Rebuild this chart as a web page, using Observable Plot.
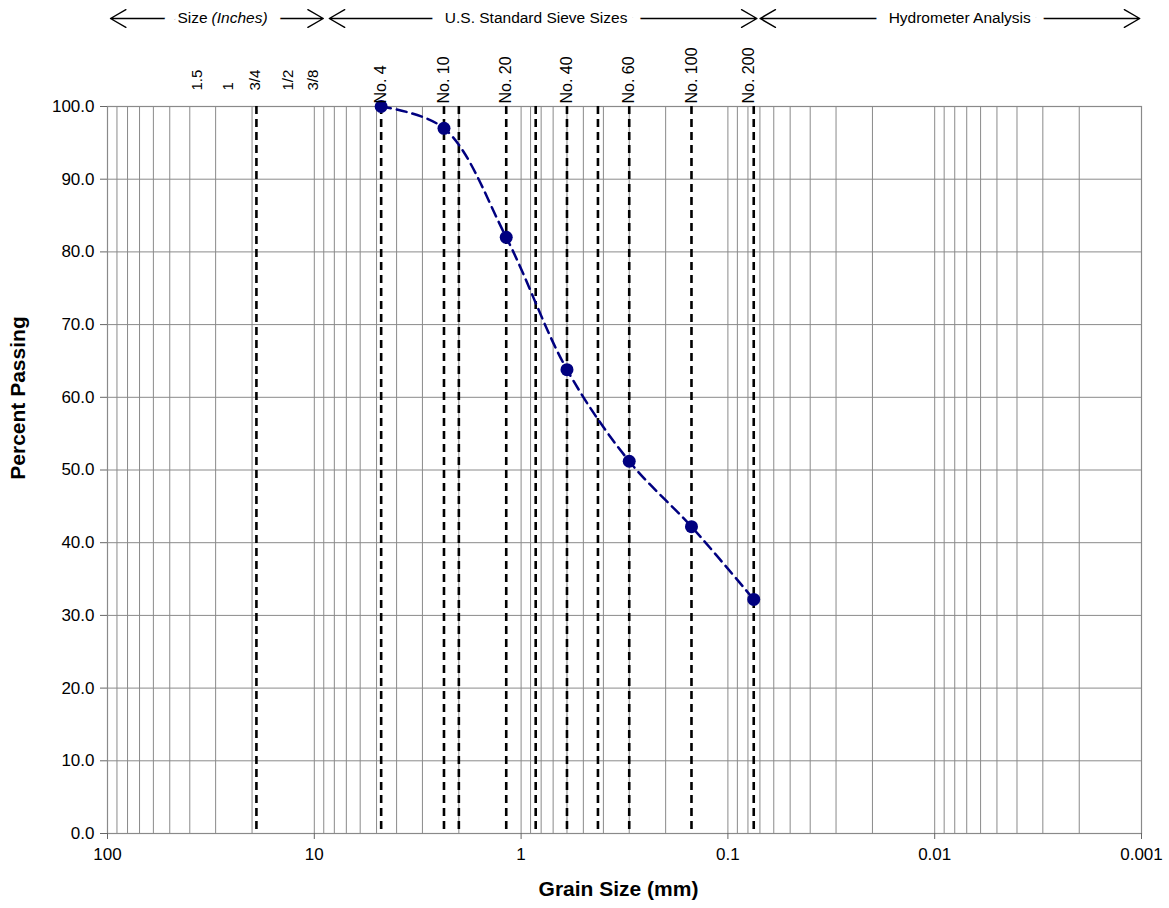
<!DOCTYPE html>
<html>
<head>
<meta charset="utf-8">
<script src="https://cdn.jsdelivr.net/npm/d3@7"></script>
<script src="https://cdn.jsdelivr.net/npm/@observablehq/plot@0.6"></script>
<style>
  html, body { margin: 0; padding: 0; background: #fff; }
  #chart { width: 1169px; }
  #chart svg { display: block; }
</style>
</head>
<body>
<div id="chart"></div>
<script>
// ---- data ----
const grainSize = [4.75, 2.36, 1.18, 0.6, 0.3, 0.15, 0.075];          // mm
const percentPassing = [100.0, 97.0, 82.0, 63.8, 51.2, 42.2, 32.2];   // %

const sieveLabels = ["No. 4", "No. 10", "No. 20", "No. 40", "No. 60", "No. 100", "No. 200"];
const sieveLabelSize = [4.75, 2.36, 1.18, 0.6, 0.3, 0.15, 0.079];
const sieveLines = [19.05, 4.75, 2.36, 2.0, 1.18, 0.85, 0.6, 0.425, 0.3, 0.15, 0.075];

const inchLabels = ["1.5", "1", "3/4", "1/2", "3/8"];
const inchLabelSize = [36.7, 26.0, 19.3, 13.4, 10.1];

const yTicks = [0, 10, 20, 30, 40, 50, 60, 70, 80, 90, 100];
const yGrid = [10, 20, 30, 40, 50, 60, 70, 80, 90];
const xTicks = [100, 10, 1, 0.1, 0.01, 0.001];
const xDomain = [100, 0.001];

// header bands
const headerLabels = ["Size", "U.S. Standard Sieve Sizes", "Hydrometer Analysis"];
const headerItalic = ["(Inches)", "", ""];
const headerCenter = [32.1, 0.846, 0.00757];
const headerStart = [96.7, 8.46, 0.0699];
const headerEnd = [9.05, 0.0724, 0.00102];

// ---- build ----
const font = "'Liberation Sans', Arial, Helvetica, sans-serif";
const W = 1169, ML = 107, MR = 28;
const navy = "#000080";
const gridColor = "#8a8a8a";

const points = grainSize.map((g, i) => ({g, p: percentPassing[i]}));
const header = headerLabels.map((t, i) => ({
  t, it: headerItalic[i], c: headerCenter[i], s: headerStart[i], e: headerEnd[i]
}));
const split = header.filter(d => d.it);
const whole = header.filter(d => !d.it);

function headerText(data, opts, halo) {
  return Plot.text(data, Object.assign({y: 0.5, fontSize: 15.5},
    halo ? {fill: "white", stroke: "white", strokeWidth: 27} : {fill: "black"}, opts));
}

const headerPlot = Plot.plot({
  width: W, height: 36,
  marginLeft: ML, marginRight: MR, marginTop: 0, marginBottom: 0,
  style: {fontFamily: font, fontSize: "15.5px", background: "white", color: "black"},
  x: {type: "log", domain: xDomain, axis: null},
  y: {domain: [0, 1], axis: null},
  marks: [
    Plot.arrow(header, {x1: "c", x2: "s", y1: 0.5, y2: 0.5, stroke: "black", strokeWidth: 1.4, headAngle: 60, headLength: 19}),
    Plot.arrow(header, {x1: "c", x2: "e", y1: 0.5, y2: 0.5, stroke: "black", strokeWidth: 1.4, headAngle: 60, headLength: 19}),
    // halos first
    headerText(split, {x: "c", text: "t", textAnchor: "end", dx: -2}, true),
    headerText(split, {x: "c", text: "it", textAnchor: "start", dx: 2, fontStyle: "italic"}, true),
    headerText(whole, {x: "c", text: "t"}, true),
    // then the texts
    headerText(split, {x: "c", text: "t", textAnchor: "end", dx: -2}, false),
    headerText(split, {x: "c", text: "it", textAnchor: "start", dx: 2, fontStyle: "italic"}, false),
    headerText(whole, {x: "c", text: "t"}, false)
  ]
});

const gridTicks = d3.scaleLog().domain([0.001, 100]).ticks();

const mainPlot = Plot.plot({
  width: W, height: 872,
  marginLeft: ML, marginRight: MR, marginTop: 70, marginBottom: 75,
  style: {fontFamily: font, fontSize: "17px", background: "white", color: "black"},
  x: {type: "log", domain: xDomain},
  y: {domain: [0, 100]},
  marks: [
    Plot.ruleY(yGrid, {stroke: gridColor, strokeWidth: 1}),
    Plot.ruleX(gridTicks, {stroke: gridColor, strokeWidth: 1}),
    Plot.frame({stroke: gridColor, strokeWidth: 1.2}),
    Plot.ruleX(sieveLines, {stroke: "black", strokeWidth: 2.6, strokeDasharray: "8,5"}),
    Plot.axisY({ticks: yTicks, tickFormat: d3.format(".1f"), tickSize: 7, tickPadding: 6, fontSize: 17, stroke: "#666", label: null}),
    Plot.axisX({ticks: xTicks, tickFormat: d => String(d), tickSize: 6, tickPadding: 8, fontSize: 17, stroke: "#666", label: null}),
    Plot.line(points, {x: "g", y: "p", curve: "catmull-rom", stroke: navy, strokeWidth: 2.5, strokeDasharray: "10,6"}),
    Plot.dot(points, {x: "g", y: "p", r: 6.5, fill: navy, stroke: null}),
    Plot.text(sieveLabels, {x: sieveLabelSize, text: d => d, frameAnchor: "top", rotate: -90, textAnchor: "start", lineAnchor: "middle", dy: -3, fontSize: 16, fill: "black"}),
    Plot.text(inchLabels, {x: inchLabelSize, text: d => d, frameAnchor: "top", rotate: -90, textAnchor: "start", lineAnchor: "middle", dy: -16, fontSize: 15, fill: "black"}),
    Plot.text(["Percent Passing"], {text: d => d, frameAnchor: "left", rotate: -90, textAnchor: "middle", lineAnchor: "middle", dx: -89, dy: -72, fontSize: 21, fontWeight: "bold", fill: "black"}),
    Plot.text(["Grain Size (mm)"], {text: d => d, frameAnchor: "bottom", textAnchor: "middle", lineAnchor: "middle", dx: -6, dy: 56, fontSize: 21, fontWeight: "bold", fill: "black"})
  ]
});

const root = document.getElementById("chart");
root.appendChild(headerPlot);
root.appendChild(mainPlot);
</script>
</body>
</html>
